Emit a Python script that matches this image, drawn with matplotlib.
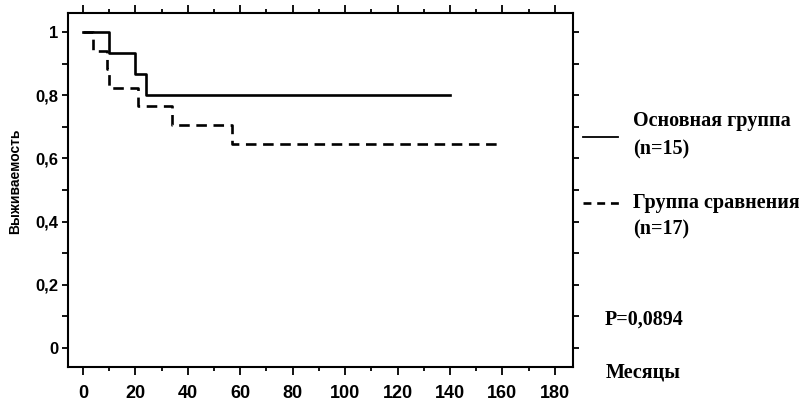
import matplotlib
matplotlib.use("Agg")
import matplotlib.pyplot as plt
from matplotlib.ticker import MultipleLocator, FuncFormatter

# Kaplan-Meier survival
main_months = [0, 10, 20, 24, 140]
main_surv = [1.0, 0.933, 0.867, 0.800, 0.800]
comp_months = [0, 4, 9, 10, 21, 34, 57, 160]
comp_surv = [1.0, 0.941, 0.882, 0.824, 0.765, 0.706, 0.647, 0.647]

main_label = ["Основная группа", "(n=15)"]
comp_label = ["Группа сравнения", "(n=17)"]
p_text = "P=0,0894"
x_title = "Месяцы"
y_title = "Выживаемость"
x_ticks = [0, 20, 40, 60, 80, 100, 120, 140, 160, 180]
y_ticks = [0, 0.2, 0.4, 0.6, 0.8, 1.0]

SERIF = ["Liberation Serif", "DejaVu Serif"]
TICKFONT = ["Liberation Sans", "DejaVu Sans"]
TXT = dict(family=SERIF, fontsize=14.5, fontweight="bold", va="center")

fig = plt.figure(figsize=(7.99, 4.15), dpi=100)
ax = fig.add_axes([0.0851, 0.1157, 0.717 - 0.0851, 0.9687 - 0.1157])

ax.step(main_months, main_surv, where="post", color="black", lw=1.9)
ax.step(comp_months, comp_surv, where="post", color="black", lw=1.9,
        dashes=(4, 2.5))

ax.set_xlim(-5.7, 186.9)
ax.set_ylim(-0.06, 1.06)

ax.set_xticks(x_ticks)
ax.xaxis.set_minor_locator(MultipleLocator(10))
ax.set_yticks(y_ticks)
ax.yaxis.set_minor_locator(MultipleLocator(0.1))
ax.yaxis.set_major_formatter(FuncFormatter(
    lambda v, _: "1" if abs(v - 1) < 1e-9 else ("0" if abs(v) < 1e-9 else f"{v:.1f}".replace(".", ","))))

ax.tick_params(axis="both", which="both", direction="out", top=True, right=True,
               width=1.3, colors="black")
ax.tick_params(axis="x", which="major", length=6, pad=7)
ax.tick_params(axis="x", which="minor", length=3)
ax.tick_params(axis="y", which="both", length=4, pad=3)
for lab in ax.get_xticklabels():
    lab.set_family(TICKFONT)
    lab.set_fontweight("bold")
    lab.set_fontsize(13)
for lab in ax.get_yticklabels():
    lab.set_family(TICKFONT)
    lab.set_fontweight("bold")
    lab.set_fontsize(12)

for sp in ax.spines.values():
    sp.set_linewidth(1.5)

ax.set_ylabel(y_title, family=["Liberation Sans Narrow"] + TICKFONT,
              fontweight="bold", fontsize=10)
ax.yaxis.set_label_coords(-0.091, 0.525)

# legend drawn by hand, as in the original
def fx(px):
    return px / 799

def fy(py):
    return 1 - py / 415

fig.add_artist(plt.Line2D([fx(583), fx(618)], [fy(137), fy(137)],
                          color="black", lw=1.3))
fig.add_artist(plt.Line2D([fx(583), fx(620)], [fy(203), fy(203)],
                          color="black", lw=1.9, dashes=(3, 2.2)))
fig.text(fx(633), fy(121), main_label[0], **TXT)
fig.text(fx(633), fy(149), main_label[1], **TXT)
fig.text(fx(633), fy(203), comp_label[0], **TXT)
fig.text(fx(633), fy(229), comp_label[1], **TXT)
fig.text(fx(605), fy(320), p_text, **TXT)
fig.text(fx(606), fy(372), x_title, **TXT)

fig.savefig("out.png", dpi=100)
